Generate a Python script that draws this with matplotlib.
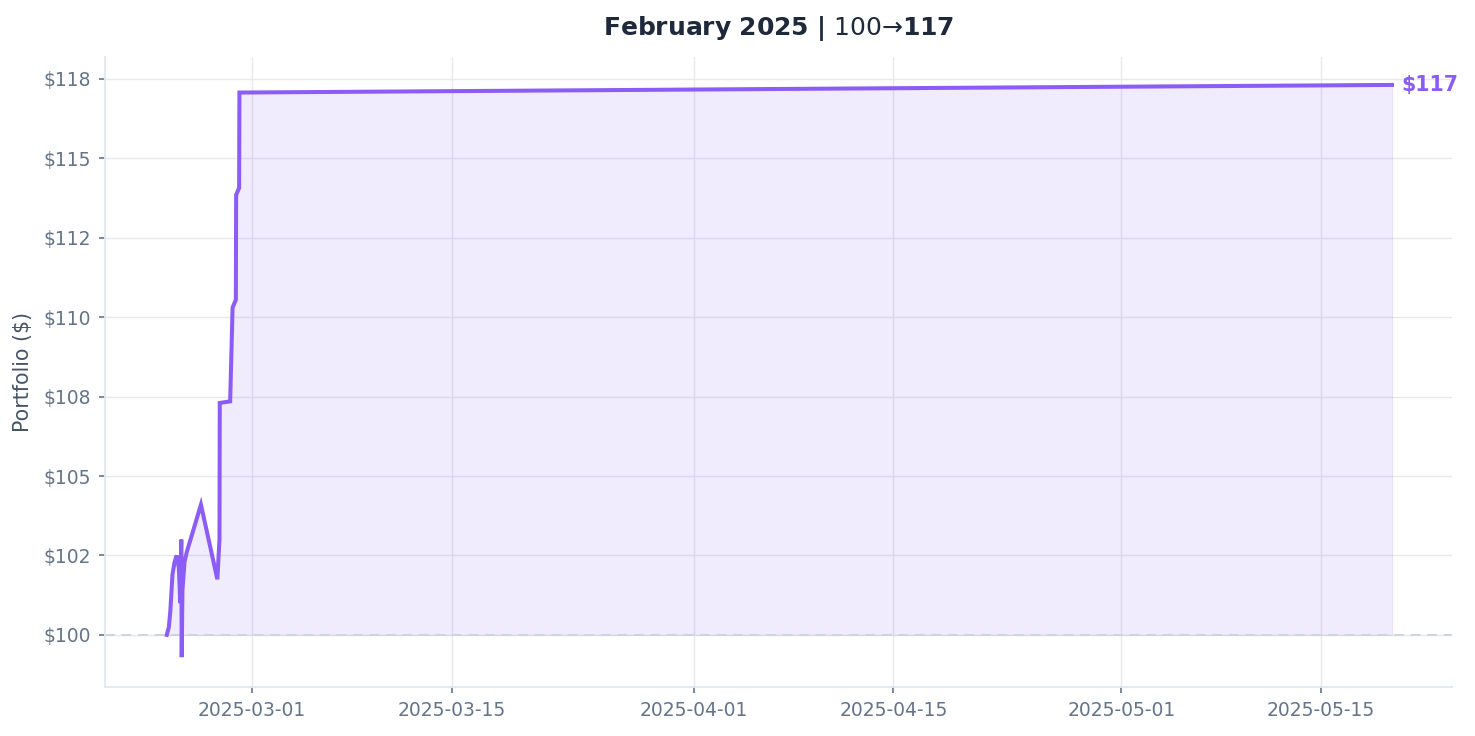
import matplotlib
matplotlib.use("Agg")
import matplotlib.pyplot as plt
import matplotlib.dates as mdates
import matplotlib.ticker as mticker
import pandas as pd
import numpy as np

# ---- data ----
times = [
    "2025-02-23 00:00", "2025-02-23 03:36", "2025-02-23 06:00", "2025-02-23 09:36",
    "2025-02-23 13:12", "2025-02-23 16:48", "2025-02-23 20:24", "2025-02-23 22:48",
    "2025-02-24 00:29", "2025-02-24 01:12", "2025-02-24 02:24", "2025-02-24 06:00",
    "2025-02-24 09:36", "2025-02-25 09:36", "2025-02-26 13:12", "2025-02-26 16:48",
    "2025-02-26 17:17", "2025-02-27 10:48", "2025-02-27 13:12", "2025-02-27 14:53",
    "2025-02-27 20:24", "2025-02-27 20:53", "2025-02-28 01:55", "2025-02-28 02:24",
    "2025-05-20 00:00",
]
values = [
    100.00, 100.25, 100.75, 101.90,
    102.30, 102.50, 102.10, 101.00,
    103.00, 99.30, 101.40, 102.30,
    102.60, 104.10, 101.75, 103.00,
    107.30, 107.35, 109.10, 110.30,
    110.55, 113.85, 114.07, 117.07,
    117.31,
]
y_ticks = [100, 102.5, 105, 107.5, 110, 112.5, 115, 117.5]
x_ticks = ["2025-03-01", "2025-03-15", "2025-04-01", "2025-04-15", "2025-05-01", "2025-05-15"]
baseline = 100
title_period = "February 2025"
start_label = "100"
end_label = "117"
end_text = "$117"

# ---- styling ----
LINE = "#8b5cf6"
TEXT_DARK = "#1e293b"
TICK = "#64748b"
SPINE = "#e2e8f0"
GRID = "#e5e7eb"

t = pd.to_datetime(times)
v = np.array(values)

fig = plt.figure(figsize=(14.75, 7.36), dpi=100)
ax = fig.add_axes([0.0712, 0.0666, 0.9132, 0.856])

ax.fill_between(t, v, baseline, color=LINE, alpha=0.12, linewidth=0.8, zorder=1)
ax.plot(t, v, color=LINE, linewidth=2.9, solid_joinstyle="miter", zorder=3)
ax.axhline(baseline, color="#cbd5e1", linestyle=(0, (5, 3.5)), linewidth=1.4, zorder=2)

ax.set_xlim(pd.Timestamp("2025-02-18 16:00"), pd.Timestamp("2025-05-24 05:00"))
ax.set_ylim(98.36, 118.19)

ax.set_yticks(y_ticks)
ax.yaxis.set_major_formatter(mticker.FuncFormatter(lambda x, p: f"${x:.0f}"))
ax.set_xticks(pd.to_datetime(x_ticks))
ax.xaxis.set_major_formatter(mdates.DateFormatter("%Y-%m-%d"))

ax.grid(True, color=GRID, linewidth=1.0, alpha=0.9, zorder=0)
ax.set_axisbelow(True)
for s in ["top", "right"]:
    ax.spines[s].set_visible(False)
for s in ["left", "bottom"]:
    ax.spines[s].set_color(SPINE)
    ax.spines[s].set_linewidth(1.3)
ax.tick_params(axis="both", colors=TICK, labelsize=13.5, length=4, width=1.2)
ax.tick_params(axis="x", pad=6)
ax.tick_params(axis="y", pad=6)

ax.set_ylabel("Portfolio ($)", color="#475569", fontsize=14.8, labelpad=8)

ax.annotate(end_text, xy=(t[-1], v[-1]), xytext=(7, 0), textcoords="offset points",
            color=LINE, fontsize=14.8, fontweight="bold", va="center", ha="left")

title = (r"$\bf{" + title_period.replace(" ", r"\ ") + r"\ |}$ " + start_label + "→"
         + r"$\bf{" + end_label + "}$")
ax.text(0.5, 1.0 + (57 - 29) / 630.0, title, transform=ax.transAxes,
        ha="center", va="center", fontsize=18, color=TEXT_DARK)

fig.savefig("out.png", dpi=100)
